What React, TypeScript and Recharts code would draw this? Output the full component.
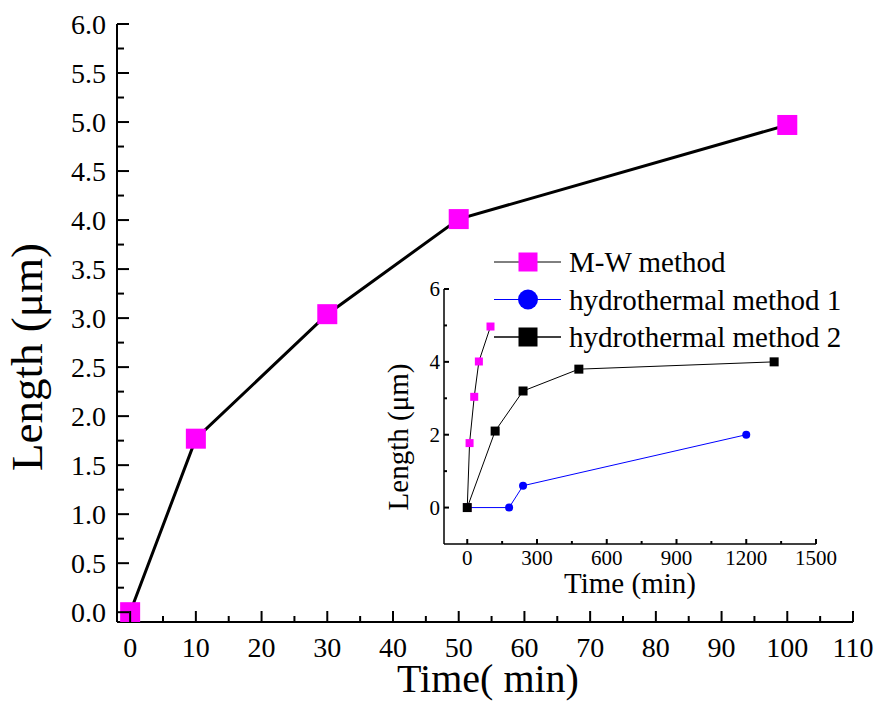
import React from 'react';
import { LineChart, Line, XAxis, YAxis, Legend, Label } from 'recharts';

const FONT = '"Liberation Serif", "Times New Roman", serif';

// Main chart: M-W method
const mwTime = [0, 10, 30, 50, 100];
const mwLength = [0, 1.77, 3.04, 4.01, 4.97];

// Inset: hydrothermal methods
const h1Time = [0, 180, 240, 1200];
const h1Length = [0, 0, 0.6, 2.0];
const h2Time = [0, 120, 240, 480, 1320];
const h2Length = [0, 2.1, 3.2, 3.8, 4.0];

const seriesNames = ['M-W method', 'hydrothermal method 1', 'hydrothermal method 2'];

const mainXTicks = [0, 5, 10, 15, 20, 25, 30, 35, 40, 45, 50, 55, 60, 65, 70, 75, 80, 85, 90, 95, 100, 105, 110];
const mainXMajor = [0, 10, 20, 30, 40, 50, 60, 70, 80, 90, 100, 110];
const mainXLabels = ['0', '10', '20', '30', '40', '50', '60', '70', '80', '90', '100', '110'];
const mainYTicks = [0, 0.25, 0.5, 0.75, 1, 1.25, 1.5, 1.75, 2, 2.25, 2.5, 2.75, 3, 3.25, 3.5, 3.75, 4, 4.25, 4.5, 4.75, 5, 5.25, 5.5, 5.75, 6];
const mainYMajor = [0, 0.5, 1, 1.5, 2, 2.5, 3, 3.5, 4, 4.5, 5, 5.5, 6];
const mainYLabels = ['0.0', '0.5', '1.0', '1.5', '2.0', '2.5', '3.0', '3.5', '4.0', '4.5', '5.0', '5.5', '6.0'];

const insetXTicks = [0, 150, 300, 450, 600, 750, 900, 1050, 1200, 1350, 1500];
const insetXMajor = [0, 300, 600, 900, 1200, 1500];
const insetXLabels = ['0', '300', '600', '900', '1200', '1500'];
const insetYTicks = [0, 1, 2, 3, 4, 5, 6];
const insetYMajor = [0, 2, 4, 6];
const insetYLabels = ['0', '2', '4', '6'];

const mwData = mwTime.map((t, i) => ({ t, v: mwLength[i] }));
const h1Data = h1Time.map((t, i) => ({ t, v: h1Length[i] }));
const h2Data = h2Time.map((t, i) => ({ t, v: h2Length[i] }));

type TickOpts = {
  major: number[];
  labels: string[];
  orient: 'bottom' | 'left';
  majorLen: number;
  minorLen: number;
  fontSize: number;
  gap: number;
};

const makeTick = (o: TickOpts) => (props: any) => {
  const { x, y, payload, index } = props;
  const v = payload.value;
  const mi = o.major.findIndex((m) => Math.abs(m - v) < 1e-9);
  const isMajor = mi >= 0;
  const len = isMajor ? o.majorLen : o.minorLen;
  if (o.orient === 'bottom') {
    return (
      <g key={`t-${index}`}>
        <line x1={x} y1={y} x2={x} y2={y - len} stroke="#000" strokeWidth={2} />
        {isMajor && (
          <text x={x} y={y + o.gap} textAnchor="middle" fontFamily={FONT} fontSize={o.fontSize} fill="#000">
            {o.labels[mi]}
          </text>
        )}
      </g>
    );
  }
  return (
    <g key={`t-${index}`}>
      <line x1={x} y1={y} x2={x + len} y2={y} stroke="#000" strokeWidth={2} />
      {isMajor && (
        <text x={x - o.gap} y={y + o.fontSize * 0.34} textAnchor="end" fontFamily={FONT} fontSize={o.fontSize} fill="#000">
          {o.labels[mi]}
        </text>
      )}
    </g>
  );
};

const squareDot = (size: number, fill: string) => (p: any) => {
  if (p.cx == null || p.cy == null) return <g key={`d-${p.index}`} />;
  return <rect key={`d-${p.index}`} x={p.cx - size / 2} y={p.cy - size / 2} width={size} height={size} fill={fill} />;
};
const circleDot = (r: number, fill: string) => (p: any) => {
  if (p.cx == null || p.cy == null) return <g key={`d-${p.index}`} />;
  return <circle key={`d-${p.index}`} cx={p.cx} cy={p.cy} r={r} fill={fill} />;
};

const renderLegend = () => {
  const rows = [
    { line: '#000', lw: 1, kind: 'sq', fill: '#FF00FF' },
    { line: '#0000FF', lw: 1, kind: 'ci', fill: '#0000FF' },
    { line: '#000', lw: 1.5, kind: 'sq', fill: '#000' },
  ];
  return (
    <svg width={360} height={120} style={{ overflow: 'visible', display: 'block' }}>
      {rows.map((r, i) => {
        const cy = 22 + i * 37.5;
        return (
          <g key={i}>
            <line x1={0} y1={cy} x2={67} y2={cy} stroke={r.line} strokeWidth={r.lw} />
            {r.kind === 'sq' ? (
              <rect x={34 - 9.5} y={cy - 9.5} width={19} height={19} fill={r.fill} />
            ) : (
              <circle cx={34} cy={cy} r={10} fill={r.fill} />
            )}
            <text x={75} y={cy + 10} fontFamily={FONT} fontSize={29} fill="#000">
              {seriesNames[i]}
            </text>
          </g>
        );
      })}
    </svg>
  );
};

export default function App() {
  return (
    <div style={{ position: 'absolute', left: 0, top: 0, width: 879, height: 702, background: '#fff' }}>
      <div style={{ position: 'absolute', left: 0, top: 0 }}>
        <LineChart width={879} height={702} margin={{ top: 24, right: 26, left: 0, bottom: 0 }}>
          <XAxis
            dataKey="t"
            type="number"
            domain={[-2, 110]}
            ticks={mainXTicks}
            interval={0}
            height={80}
            tickSize={0}
            tickMargin={0}
            tickLine={false}
            axisLine={{ stroke: '#000', strokeWidth: 2 }}
            tick={makeTick({ major: mainXMajor, labels: mainXLabels, orient: 'bottom', majorLen: 11, minorLen: 6, fontSize: 28, gap: 35 })}
            allowDataOverflow
          >
            <Label
              content={(p: any) => {
                const vb = p.viewBox || { x: 117, y: 622, width: 736 };
                return (
                  <text x={vb.x + vb.width / 2 + 3} y={vb.y + 70} textAnchor="middle" fontFamily={FONT} fontSize={40} fill="#000">
                    Time( min)
                  </text>
                );
              }}
            />
          </XAxis>
          <XAxis xAxisId="top" orientation="top" type="number" domain={[-2, 110]} height={0} tick={false} tickLine={false} axisLine={{ stroke: '#000', strokeWidth: 2 }} />
          <YAxis
            type="number"
            domain={[-0.1, 6]}
            ticks={mainYTicks}
            interval={0}
            width={117}
            tickSize={0}
            tickMargin={0}
            tickLine={false}
            axisLine={{ stroke: '#000', strokeWidth: 2 }}
            tick={makeTick({ major: mainYMajor, labels: mainYLabels, orient: 'left', majorLen: 12, minorLen: 7, fontSize: 28, gap: 11 })}
            allowDataOverflow
          >
            <Label
              content={() => (
                <text x={42} y={357} transform="rotate(-90 42 357)" textAnchor="middle" fontFamily={FONT} fontSize={45} fill="#000">
                  Length (μm)
                </text>
              )}
            />
          </YAxis>
          <YAxis yAxisId="right" orientation="right" domain={[-0.1, 6]} width={0} tick={false} tickLine={false} axisLine={{ stroke: '#000', strokeWidth: 2 }} />
          <Line data={mwData} dataKey="v" stroke="#000" strokeWidth={3} dot={squareDot(20, '#FF00FF')} isAnimationActive={false} />
        </LineChart>
      </div>
      <div style={{ position: 'absolute', left: 380, top: 240 }}>
        <LineChart width={470} height={370} margin={{ top: 49, right: 34, left: 0, bottom: 0 }}>
          <XAxis
            dataKey="t"
            type="number"
            domain={[-100, 1500]}
            ticks={insetXTicks}
            interval={0}
            height={66}
            tickSize={0}
            tickMargin={0}
            tickLine={false}
            axisLine={{ stroke: '#000', strokeWidth: 1.5 }}
            tick={makeTick({ major: insetXMajor, labels: insetXLabels, orient: 'bottom', majorLen: 5, minorLen: 3, fontSize: 21, gap: 21 })}
            allowDataOverflow
          >
            <Label
              content={(p: any) => {
                const vb = p.viewBox || { x: 64, y: 304, width: 372 };
                return (
                  <text x={vb.x + vb.width / 2} y={vb.y + 49} textAnchor="middle" fontFamily={FONT} fontSize={29} fill="#000">
                    Time (min)
                  </text>
                );
              }}
            />
          </XAxis>
          <YAxis
            type="number"
            domain={[-1, 6]}
            ticks={insetYTicks}
            interval={0}
            width={64}
            tickSize={0}
            tickMargin={0}
            tickLine={false}
            axisLine={{ stroke: '#000', strokeWidth: 1.5 }}
            tick={makeTick({ major: insetYMajor, labels: insetYLabels, orient: 'left', majorLen: 5, minorLen: 3, fontSize: 21, gap: 4 })}
            allowDataOverflow
          >
            <Label
              content={() => (
                <text x={28} y={197} transform="rotate(-90 28 197)" textAnchor="middle" fontFamily={FONT} fontSize={29} fill="#000">
                  Length (μm)
                </text>
              )}
            />
          </YAxis>
          <Legend
            layout="vertical"
            align="center"
            verticalAlign="middle"
            content={renderLegend}
            wrapperStyle={{ left: 114, top: 0, width: 360, height: 120 }}
          />
          <Line name={seriesNames[0]} data={mwData} dataKey="v" stroke="#000" strokeWidth={1} dot={squareDot(8, '#FF00FF')} isAnimationActive={false} />
          <Line name={seriesNames[1]} data={h1Data} dataKey="v" stroke="#0000FF" strokeWidth={1} dot={circleDot(4, '#0000FF')} isAnimationActive={false} />
          <Line name={seriesNames[2]} data={h2Data} dataKey="v" stroke="#000" strokeWidth={1} dot={squareDot(9, '#000')} isAnimationActive={false} />
        </LineChart>
      </div>
    </div>
  );
}
